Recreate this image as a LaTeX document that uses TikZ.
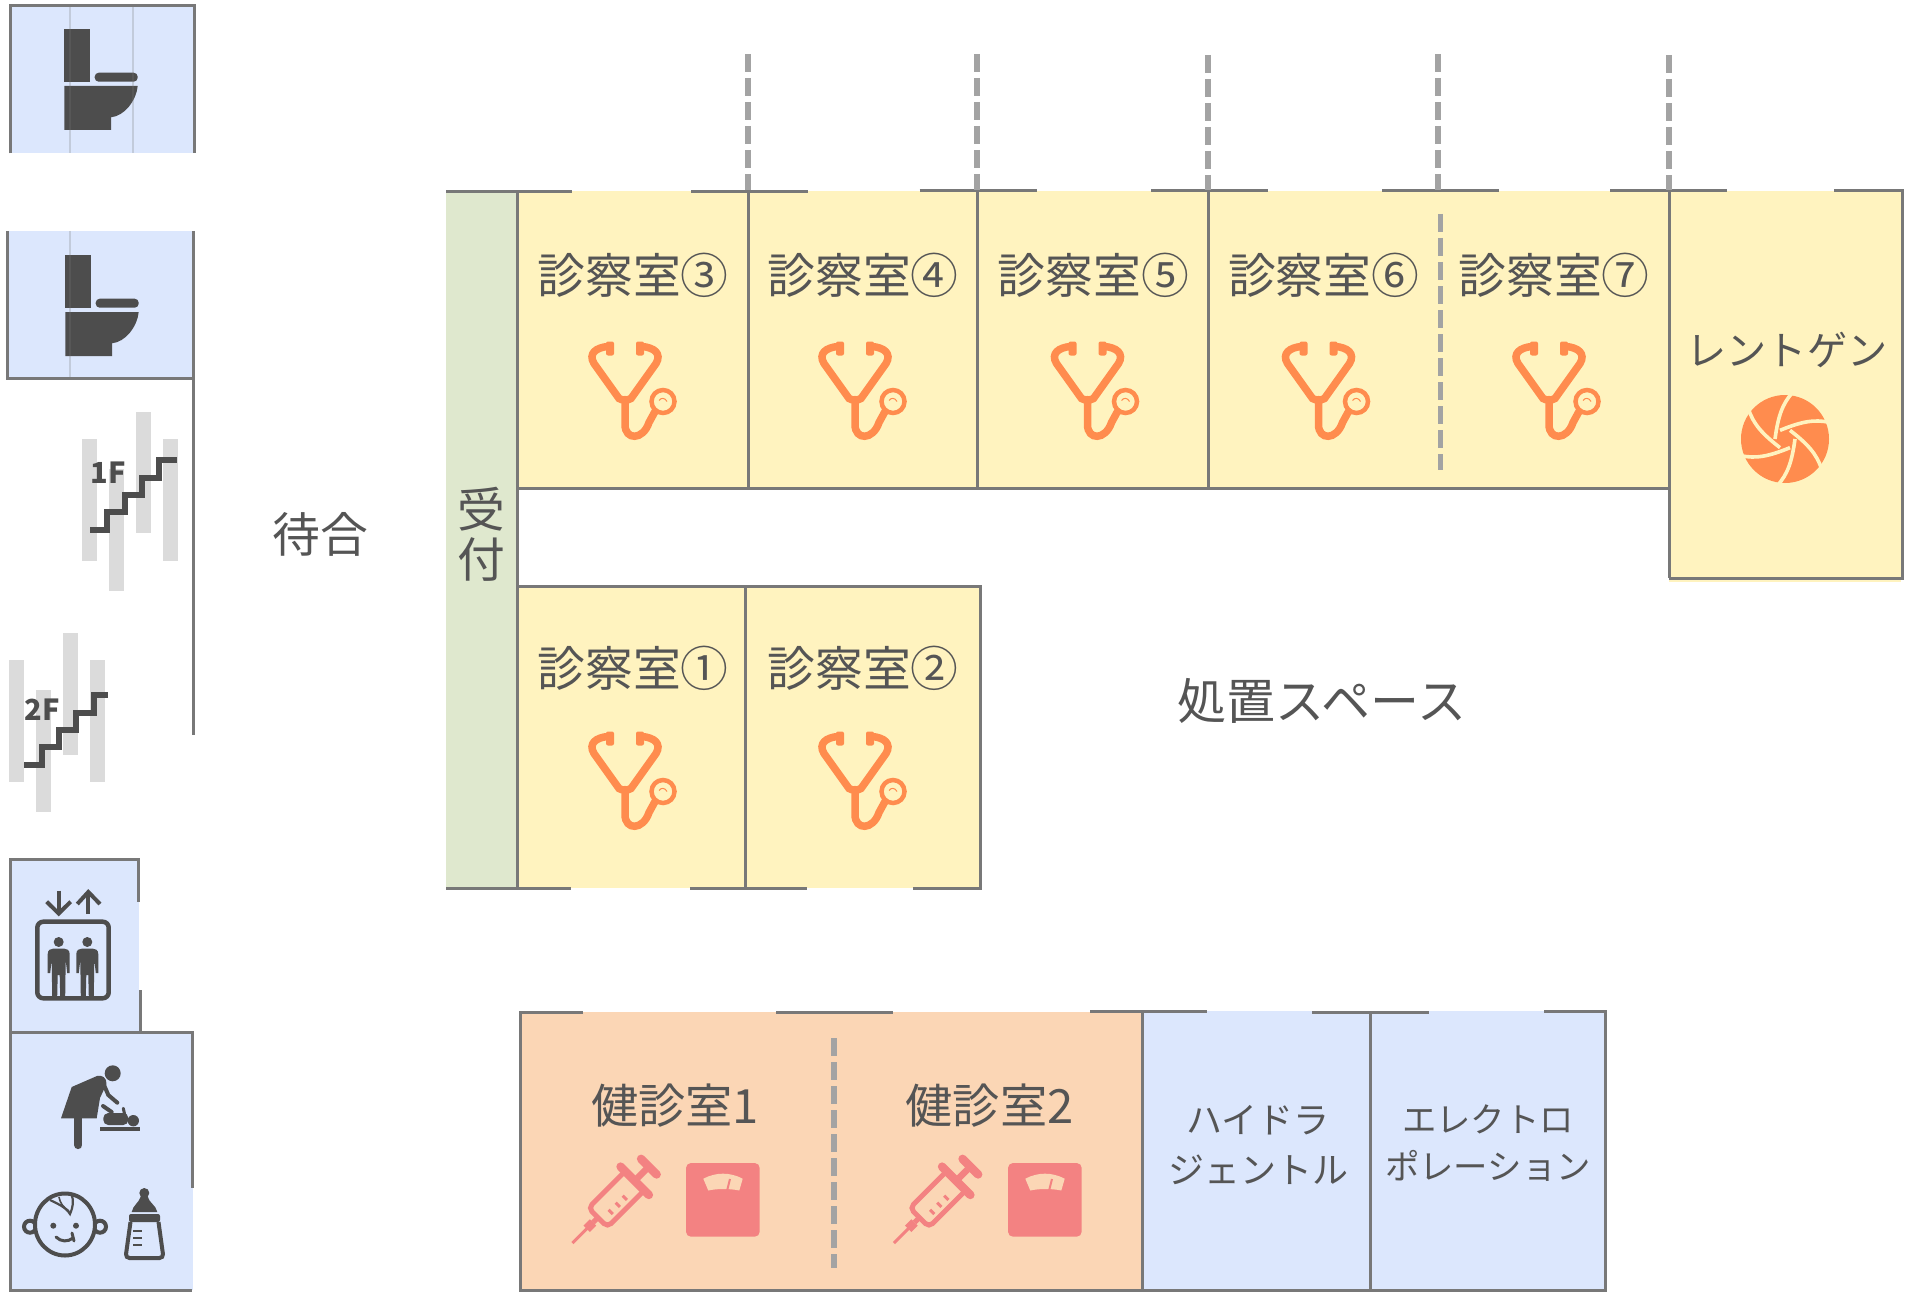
\documentclass[tikz,border=0pt]{standalone}
\usepackage{fontspec}
\usepackage{xcolor}
\usepackage{tikz}
\usetikzlibrary{calc}
\setmainfont{Noto Sans CJK JP}
\definecolor{wallc}{HTML}{787878}
\definecolor{dashc}{HTML}{A3A3A3}
\definecolor{textc}{HTML}{555555}
\definecolor{iconc}{HTML}{4D4D4D}
\definecolor{yellowc}{HTML}{FFF3BF}
\definecolor{greenc}{HTML}{DFE8CE}
\definecolor{peachc}{HTML}{FBD6B5}
\definecolor{bluec}{HTML}{DCE7FD}
\definecolor{orangec}{HTML}{FF8C4E}
\definecolor{pinkc}{HTML}{F38282}
\definecolor{stairc}{HTML}{DBDBDB}
\tikzset{
	wall/.style={draw=wallc, line width=3pt},
	dashwall/.style={draw=dashc, line width=6pt, dash pattern=on 18pt off 6pt},
	faint/.style={draw=wallc, line width=2.5pt, opacity=0.25},
	bigtext/.style={text=textc, inner sep=0pt, font=\fontsize{47.8}{50}\selectfont, align=center},
	blade/.style={draw=yellowc, line width=3.6pt},
	stetho/.pic={
		\fill[orangec, rounded corners=2pt] (-19,-56) rectangle (-11,-42);
		\fill[orangec, rounded corners=2pt] (11,-56) rectangle (19,-42);
		\draw[orangec, line width=7.5pt, line cap=round] (-17,-51) .. controls (-29,-50) and (-37,-44) .. (-31,-34) -- (-6,1) .. controls (-3,3) and (3,3) .. (6,1) -- (31,-34) .. controls (37,-44) and (29,-50) .. (17,-51);
		\draw[orangec, line width=7.5pt, line cap=round] (0,2) -- (0,27) .. controls (0,43) and (18,43) .. (24,25) -- (30,14);
		\draw[orangec, line width=4.5pt] (38,4) circle[radius=11.5pt];
		\draw[orangec, line width=1pt] (34,3) .. controls (36,0) and (40,0) .. (42,4);
	},
	syringe/.pic={
		\begin{scope}[rotate=45]
			\draw[pinkc, line width=3pt] (0,0) -- (22,0);
			\draw[pinkc, line width=9pt] (20,0) -- (29,0);
			\draw[pinkc, line width=5pt] (29,0) -- (36,0);
			\draw[pinkc, line width=5pt, rounded corners=5pt] (85,-13.5) -- (36,-13.5) -- (36,13.5) -- (85,13.5);
			\draw[pinkc, line width=8.5pt, line cap=round] (88,-20) -- (88,20);
			\draw[pinkc, line width=6.5pt] (88,0) -- (104,0);
			\draw[pinkc, line width=8.5pt, line cap=round] (108,-11) -- (108,11);
			\draw[pinkc, line width=3pt] (49,2) -- (49,8);
			\draw[pinkc, line width=3pt] (59,2) -- (59,8);
			\draw[pinkc, line width=3pt] (69,2) -- (69,8);
		\end{scope}
	},
	scales/.pic={
		\fill[pinkc, rounded corners=5pt] (0,0) rectangle (73.7,73.7);
		\fill[peachc] (17.3,15.7) .. controls (30,9) and (44,9) .. (56.7,15.7) -- (53.3,27.5) .. controls (44,25.5) and (31,25.5) .. (22.3,27.5) -- cycle;
		\draw[pinkc, line width=2pt] (44,16) -- (41,28);
	},
	toilet/.pic={
		\fill[iconc] (0,0) rectangle (26,52.7);
		\fill[iconc, rounded corners=4pt] (30.4,43.7) -- (73.4,43.7) -- (73.4,52.7) -- (30.4,52.7) -- cycle;
		\fill[iconc] (0,57) -- (73.4,57) .. controls (72,72) and (60,87) .. (46.7,88.3) -- (46.7,101) -- (0,101) -- cycle;
	},
	person/.pic={
		\fill[iconc] (0,0) circle[radius=5pt];
		\fill[iconc] (-11,12) .. controls (-11,8) and (-8,6.5) .. (-5,6.5) -- (5,6.5) .. controls (8,6.5) and (11,8) .. (11,12) -- (11,31) -- (8.5,31) -- (7,18) -- (6.5,55) -- (1.5,55) -- (1,33) -- (-1,33) -- (-1.5,55) -- (-6.5,55) -- (-7,18) -- (-8.5,31) -- (-11,31) -- cycle;
	}
}
\begin{document}
\begin{tikzpicture}[x=1pt, y=-1pt, inner sep=0pt]
	\useasboundingbox (0,0) rectangle (1920,1300);

	% room fills
	\fill[bluec] (9,6) rectangle (194.5,153);
	\fill[bluec] (7,231) rectangle (193,378);
	\fill[bluec] (10,859) rectangle (139,1032);
	\fill[bluec] (10,1032) rectangle (193,1290);
	\fill[greenc] (446,192) rectangle (517,888);
	\fill[yellowc] (517,191) rectangle (1669,488);
	\fill[yellowc] (1669,191) rectangle (1901,582);
	\fill[yellowc] (517,586) rectangle (981,888);
	\fill[peachc] (520,1012) rectangle (1142,1290);
	\fill[bluec] (1142,1011) rectangle (1605,1290);

	% stairs
	\fill[stairc] (82,439) rectangle (97.3,560.7);
	\fill[stairc] (109,469) rectangle (124,590.7);
	\fill[stairc] (135.7,412) rectangle (151,533.3);
	\fill[stairc] (162.7,439) rectangle (178,560.7);
	\fill[stairc] (9,660) rectangle (24.3,781.7);
	\fill[stairc] (36,690) rectangle (51,811.7);
	\fill[stairc] (63,633) rectangle (78,754.7);
	\fill[stairc] (89.7,660) rectangle (105,781.7);
	\draw[iconc, line width=6pt, miter limit=4] (90,530) -- (107.3,530) -- (107.3,511.7) -- (125,511.7) -- (125,495) -- (142,495) -- (142,477.7) -- (159.3,477.7) -- (159.3,460.3) -- (176.7,460.3);
	\draw[iconc, line width=6pt, miter limit=4] (24.3,765) -- (41.6,765) -- (41.6,746.7) -- (59.3,746.7) -- (59.3,730) -- (76.3,730) -- (76.3,712.7) -- (93.6,712.7) -- (93.6,695.3) -- (108,695.3);
	\node[text=iconc, font=\fontsize{29}{29}\selectfont\bfseries] (stair_1f) at (108.5,473) {1F};
	\node[text=iconc, font=\fontsize{29}{29}\selectfont\bfseries] (stair_2f) at (42,709.5) {2F};

	% toilets
	\pic at (64.3,29) {toilet};
	\pic at (65.3,255) {toilet};
	\draw[faint] (70,6) -- (70,153);
	\draw[faint] (133,6) -- (133,153);
	\draw[faint] (70,231) -- (70,378);
	\draw[wall] (10,153.5) -- (10,6) -- (194.5,6) -- (194.5,153.5);
	\draw[wall] (7,231) -- (7,378.3) -- (193.3,378.3);
	\draw[wall] (193.3,231) -- (193.3,735);

	% elevator
	\draw[wall] (138.5,901.7) -- (138.5,859) -- (10,859) -- (10,1290) -- (192,1290);
	\draw[wall] (140,990) -- (140,1032);
	\draw[wall] (10,1032) -- (192.5,1032) -- (192.5,1188.3);
	\draw[iconc, line width=4.5pt, rounded corners=6pt] (37.3,921.7) rectangle (108.7,998.3);
	\draw[iconc, line width=4pt] (58.7,890.7) -- (58.7,912);
	\draw[iconc, line width=4pt] (46.7,901.7) -- (58.7,913.5) -- (70.7,901.7);
	\draw[iconc, line width=4pt] (88.3,914) -- (88.3,893);
	\draw[iconc, line width=4pt] (77.3,904) -- (88.3,892) -- (100,904);
	\pic at (58.7,942) {person};
	\pic at (87.3,942) {person};

	% changing room
	\fill[iconc] (112.7,1073.3) circle[radius=8pt];
	\fill[iconc] (61,1118.3) -- (71.7,1087) -- (97,1076) .. controls (102,1074.5) and (107,1078) .. (106.5,1084) -- (100,1098) -- (96.7,1118.3) -- cycle;
	\draw[iconc, line width=4pt, line cap=round] (103.3,1083.3) -- (108.3,1095) -- (117.3,1102.7);
	\draw[iconc, line width=8.3pt, line cap=round] (78.3,1118) -- (78.3,1145);
	\fill[iconc] (133.3,1120.7) circle[radius=5.7pt];
	\fill[iconc, rounded corners=5pt] (103.3,1113) rectangle (128.3,1125);
	\draw[iconc, line width=4pt, line cap=round] (103,1106) -- (111.7,1112);
	\draw[iconc, line width=3pt, line cap=round] (123.3,1108.3) -- (125,1116);
	\fill[iconc] (99.7,1127.3) rectangle (139.7,1131);

	% baby and bottle
	\draw[iconc, line width=4pt, fill=bluec] (30,1226.7) circle[radius=6pt];
	\draw[iconc, line width=4pt, fill=bluec] (100,1226.7) circle[radius=6pt];
	\draw[iconc, line width=4pt, fill=bluec] (65,1224.5) ellipse[x radius=30pt, y radius=31pt];
	\fill[iconc] (53.3,1225.7) circle[radius=3pt];
	\fill[iconc] (76,1225.7) circle[radius=3pt];
	\draw[iconc, line width=3pt, line cap=round] (56,1237) .. controls (61,1242) and (68,1242) .. (73,1238);
	\draw[iconc, line width=3pt, line cap=round] (72,1233) -- (74,1241);
	\draw[iconc, line width=2.2pt] (50,1200) .. controls (56,1203) and (66,1207) .. (70,1214) .. controls (73,1207) and (74,1201) .. (71.7,1195);
	\draw[iconc, line width=1.6pt] (59,1197) .. controls (60,1203) and (63,1207) .. (69,1211);
	\fill[iconc] (144.3,1193) circle[radius=5pt];
	\fill[iconc] (131.7,1212) .. controls (133,1205) and (139,1203) .. (141,1196) -- (147.5,1196) .. controls (149,1203) and (156,1205) .. (157.3,1212) -- cycle;
	\fill[iconc, rounded corners=2pt] (129,1214) rectangle (160,1222);
	\draw[iconc, line width=4pt, rounded corners=4pt] (130.5,1222) -- (125.5,1258) -- (163.5,1258) -- (158.5,1222);
	\draw[iconc, line width=2pt] (133.3,1231) -- (142,1231);
	\draw[iconc, line width=2pt] (133.3,1238) -- (142,1238);
	\draw[iconc, line width=2pt] (133.3,1244.7) -- (142,1244.7);

	% labels
	\node[bigtext] (waiting) at (320,534) {待合};
	\node[bigtext] (reception) at (481,534) {受\\付};
	\node[bigtext] (room3) at (633,275.5) {診察室③};
	\node[bigtext] (room4) at (863,275.5) {診察室④};
	\node[bigtext] (room5) at (1093.5,275.5) {診察室⑤};
	\node[bigtext] (room6) at (1323.7,275.5) {診察室⑥};
	\node[bigtext] (room7) at (1554,275.5) {診察室⑦};
	\node[bigtext] (room1) at (633,668) {診察室①};
	\node[bigtext] (room2) at (863,668) {診察室②};
	\node[bigtext, font=\fontsize{49}{50}\selectfont] (treatment) at (1322,700.5) {処置スペース};
	\node[bigtext, font=\fontsize{40.2}{44}\selectfont] (xray) at (1787,350) {レントゲン};
	\node[bigtext, font=\fontsize{47.2}{50}\selectfont] (check1) at (675,1105.5) {健診室1};
	\node[bigtext, font=\fontsize{47.2}{50}\selectfont] (check2) at (989.5,1105.5) {健診室2};
	\node[bigtext, font=\fontsize{36}{50}\selectfont] (hydra) at (1258,1145) {ハイドラ\\ジェントル};
	\node[bigtext, font=\fontsize{34.4}{47}\selectfont] (electro) at (1488,1143) {エレクトロ\\ポレーション};

	% icons
	\pic at (625,397.5) {stetho};
	\pic at (855,397.5) {stetho};
	\pic at (1087.5,397.5) {stetho};
	\pic at (1318.5,397.5) {stetho};
	\pic at (1549,397.5) {stetho};
	\pic at (625,787.5) {stetho};
	\pic at (855,787.5) {stetho};
	\fill[orangec] (1785,439) circle[radius=44pt];
	\draw[blade, shift={(1785,439)}] (-10,0) .. controls (-7,-22) and (-3,-35) .. (8,-47);
	\draw[blade, shift={(1785,439)}, rotate=60] (-10,0) .. controls (-7,-22) and (-3,-35) .. (8,-47);
	\draw[blade, shift={(1785,439)}, rotate=120] (-10,0) .. controls (-7,-22) and (-3,-35) .. (8,-47);
	\draw[blade, shift={(1785,439)}, rotate=180] (-10,0) .. controls (-7,-22) and (-3,-35) .. (8,-47);
	\draw[blade, shift={(1785,439)}, rotate=240] (-10,0) .. controls (-7,-22) and (-3,-35) .. (8,-47);
	\draw[blade, shift={(1785,439)}, rotate=300] (-10,0) .. controls (-7,-22) and (-3,-35) .. (8,-47);
	\pic at (572.5,1243) {syringe};
	\pic at (894,1243) {syringe};
	\pic at (686,1163) {scales};
	\pic at (1008,1163) {scales};

	% walls of the upper rooms
	\draw[wall] (446,192) -- (572,192);
	\draw[wall] (691,192) -- (808,192);
	\draw[wall] (919.6,190.7) -- (1036.5,190.7);
	\draw[wall] (1151,190.7) -- (1268,190.7);
	\draw[wall] (1382,190.7) -- (1498.5,190.7);
	\draw[wall] (1610,190.7) -- (1726.5,190.7);
	\draw[wall] (1834,190.7) -- (1902,190.7) -- (1902,578) -- (1669,578);
	\draw[wall] (517,192) -- (517,888);
	\draw[wall] (748,192) -- (748,488);
	\draw[wall] (977.5,191) -- (977.5,488);
	\draw[wall] (1208.5,191) -- (1208.5,488);
	\draw[wall] (1669,191) -- (1669,578);
	\draw[wall] (517,488) -- (1669,488);

	% walls of the lower rooms
	\draw[wall] (517,586) -- (980.5,586) -- (980.5,888) -- (912.5,888);
	\draw[wall] (745.5,586) -- (745.5,888);
	\draw[wall] (446,888) -- (571,888);
	\draw[wall] (690,888) -- (807,888);
	\draw[wall] (583,1012.5) -- (520,1012.5) -- (520,1290) -- (1605,1290) -- (1605,1011) -- (1543.5,1011);
	\draw[wall] (776,1012.5) -- (893,1012.5);
	\draw[wall] (1090,1011) -- (1207,1011);
	\draw[wall] (1312,1012.5) -- (1429,1012.5);
	\draw[wall] (1142.7,1011) -- (1142.7,1290);
	\draw[wall] (1370.6,1012.5) -- (1370.6,1290);

	% partitions
	\draw[dashwall] (747.5,54) -- (747.5,190);
	\draw[dashwall] (977,54) -- (977,190);
	\draw[dashwall] (1208.3,55) -- (1208.3,190);
	\draw[dashwall] (1437.6,54) -- (1437.6,190);
	\draw[dashwall] (1669,55) -- (1669,190);
	\draw[dashwall, line width=5pt] (1440.5,214) -- (1440.5,470);
	\draw[dashwall] (834,1038) -- (834,1268);
\end{tikzpicture}
\end{document}
